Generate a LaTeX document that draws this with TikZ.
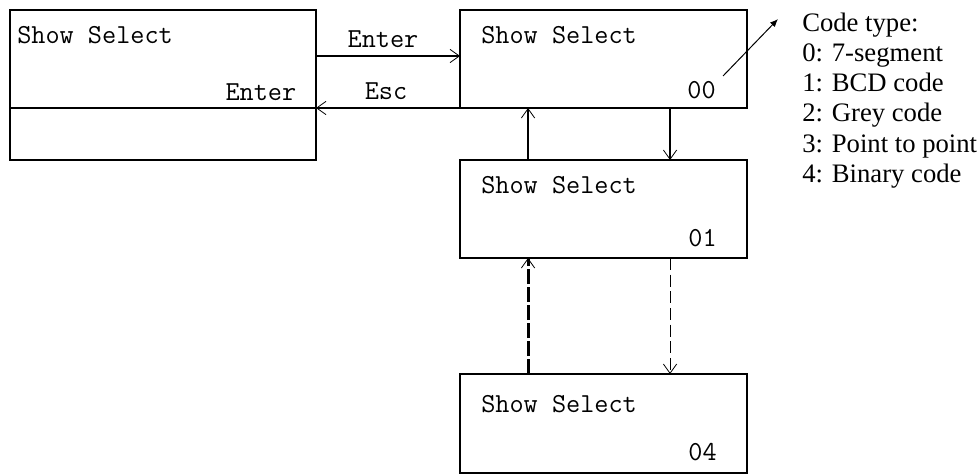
\documentclass[tikz,border=0pt]{standalone}
\usepackage{fontspec}
\usetikzlibrary{arrows.meta}
\newfontfamily\codefont{Liberation Serif}
\begin{document}
\begin{tikzpicture}[x=0.75pt, y=-0.75pt,
  box/.style={draw, line width=1.1pt, inner sep=0pt, outer sep=0pt, minimum width=215.25pt, minimum height=73.5pt},
  lbl/.style={inner sep=0pt, font=\ttfamily\fontsize{20.6}{24}\selectfont},
  arr/.style={line width=1.1pt, -{Straight Barb[length=7pt,width=10pt,line width=0.6pt]}}]
\useasboundingbox (0,0) rectangle (980,475);
\node[box, minimum width=229.5pt] (box0) at (163,59){};
\node[box, minimum width=229.5pt, minimum height=39pt] (box0b) at (163,134){};
\node[box] (box1) at (603.5,59){};
\node[box] (box2) at (603.5,209){};
\node[box, minimum height=74.25pt] (box3) at (603.5,423.5){};
\node[lbl, anchor=base west] (txt0) at (17,43){Show Select};
\node[lbl, anchor=base east] (key0) at (296.5,100){Enter};
\node[lbl, anchor=base] (keyEnter) at (383,47){Enter};
\node[lbl, anchor=base] (keyEsc) at (386,99){Esc};
\node[lbl, anchor=base west] (txt1) at (481,43){Show Select};
\node[lbl, anchor=base east] (num1) at (716,98){00};
\node[lbl, anchor=base west] (txt2) at (481,193){Show Select};
\node[lbl, anchor=base east] (num2) at (717,246){01};
\node[lbl, anchor=base west] (txt3) at (481,412){Show Select};
\node[lbl, anchor=base east] (num3) at (717,460){04};
\node[anchor=north west, inner sep=0pt, align=left, font=\codefont\fontsize{20}{22.65}\selectfont] (codes) at (802,12.5){Code type:\\0: 7-segment\\1: BCD code\\2: Grey code\\3: Point to point\\4: Binary code};
\draw[arr] ([yshift=2.25pt]box0.east) -- ([yshift=2.25pt]box1.west);
\draw[arr] (box1.south west) -- (box0.south east);
\draw[arr] ([xshift=-56.6pt]box2.north) -- ([xshift=-56.6pt]box1.south);
\draw[arr] ([xshift=49.9pt]box1.south) -- ([xshift=49.9pt]box2.north);
\draw[arr, line width=2.2pt, dash pattern=on 11pt off 2.5pt] ([xshift=-56.6pt]box3.north) -- ([xshift=-56.6pt]box2.south);
\draw[arr, line width=0.8pt, dash pattern=on 9pt off 3.5pt] ([xshift=49.9pt]box2.south) -- ([xshift=49.9pt]box3.north);
\coordinate (ptr0) at (723,76);
\coordinate (ptr1) at (778,19);
\draw[line width=0.75pt, -{Latex[length=6pt,width=5pt]}] (ptr0) -- (ptr1);
\end{tikzpicture}
\end{document}
